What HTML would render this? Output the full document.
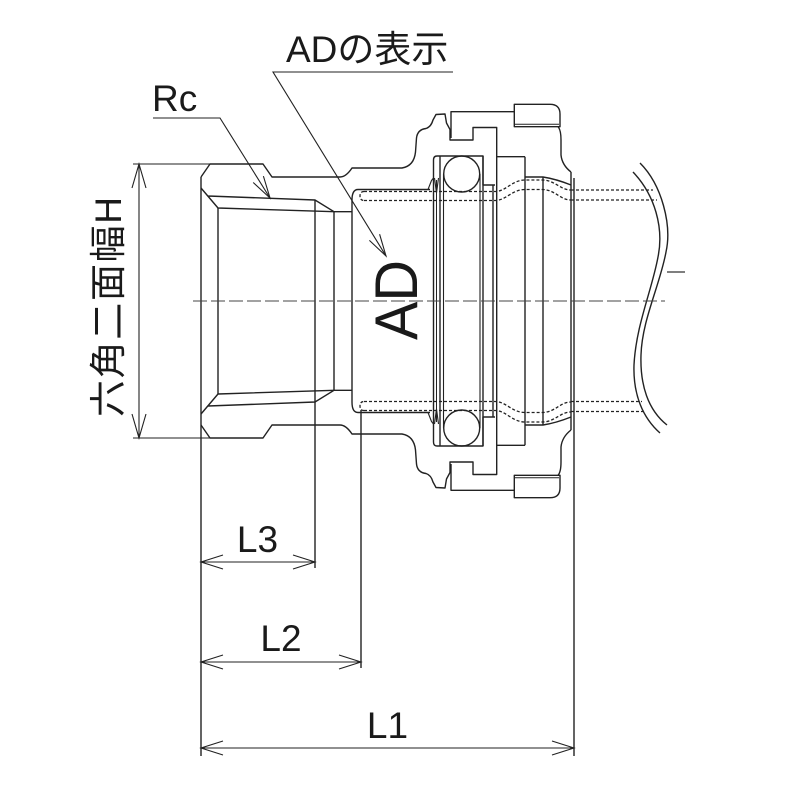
<!DOCTYPE html>
<html>
<head>
<meta charset="utf-8">
<style>
html,body{margin:0;padding:0;background:#fff;}
svg{display:block;}
text{fill:#1a1a1a;}
</style>
</head>
<body>
<svg width="800" height="800" viewBox="0 0 800 800" xmlns="http://www.w3.org/2000/svg">
<defs>
<g id="half" fill="none" stroke="#222" stroke-width="1.4" stroke-linejoin="round">
  <!-- hex + body outer profile -->
  <path d="M201,177 L210,164 L263,164 L272,177 L340,177 Q346,177 352,168 L402,168 Q414,166 415.5,152 L416.5,138 Q417.5,129.5 426,128.5 Q431,127 433,120 L436,114.5 L445,114 L446.5,123 L450,129.5 L450,140 L473,140 L473,127.5 L496.7,127.5 L496.7,156.7 L525,156.7"/>
  <!-- nut -->
  <path d="M451,138 L451,111.7 L514.3,111.7"/>
  <path d="M514.3,126.7 L514.3,104.3 L550,104.3 Q560,104.3 560,114 L560,126.7 Z"/>
  <path d="M514.3,124.3 L559,124.3" stroke-width="1"/>
  <!-- body right end -->
  <path d="M558,126.7 Q561,130 561,140 L561,155 Q562,165 571,172"/>
  <!-- thread -->
  <path d="M201,188 L218,208 L334,211.7 L315,200 L208,196"/>
  <path d="M334,211.7 L352,211.7"/>
  <!-- socket bore -->
  <path d="M352,200 Q352,189.5 358,189.5 L430,189.5"/>
  <!-- o-ring housing -->
  <path d="M433.5,160 Q433.5,156 437,156 L483,156 L483,185 L495,185"/>
  <circle cx="461.7" cy="174" r="18"/>
  <!-- grab ring teeth -->
  <path d="M428,189.5 L431.5,180.5 L433.5,178" stroke-width="1.1"/>
  <path d="M434.5,178 L436.5,193 L438.5,178" stroke-width="1.1"/>
  <!-- socket inner -->
  <path d="M525,177 L543,177 Q556,179 571,185"/>
  <!-- pipe hidden lines -->
  <path d="M364,191.5 Q360,191.5 360,196 Q360,200.5 364,200.5" stroke-dasharray="3 2" stroke-width="1.3"/>
  <path d="M364,191.5 L495,191.5 C506,191.5 512,180 525,180 L542,180 C555,180 560,190 571,190" stroke-dasharray="3 2" stroke-width="1.3"/>
  <path d="M364,200.5 L495,200.5 C506,200.5 512,189.5 525,189.5 L542,189.5 C555,189.5 560,200 571,200" stroke-dasharray="3 2" stroke-width="1.3"/>
</g>
</defs>

<use href="#half"/>
<use href="#half" transform="matrix(1,0,0,-1,0,602)"/>

<g fill="none" stroke="#222" stroke-width="1.4">
  <!-- full-length verticals -->
  <path d="M201,177 L201,756"/>
  <path d="M218,208 L218,394"/>
  <path d="M315,200 L315,568"/>
  <path d="M334,211.7 L334,390.3"/>
  <path d="M352,200 L352,402"/>
  <path d="M361,410 L361,668"/>
  <path d="M433.5,160 L433.5,442"/>
  <path d="M436.5,180 L436.5,422" stroke-width="1"/>
  <path d="M440,156 L440,446"/>
  <path d="M443.5,174 L443.5,428" stroke-width="1.1"/>
  <path d="M480,174 L480,428" stroke-width="1.1"/>
  <path d="M483,156 L483,446"/>
  <path d="M493,185 L493,417"/>
  <path d="M496.7,156.7 L496.7,445.3"/>
  <path d="M525,156.7 L525,445.3"/>
  <path d="M543,177 L543,425"/>
  <path d="M571,172 L571,430"/>
  <path d="M574,178 L574,756"/>
</g>

<!-- pipe hidden lines to the right -->
<g fill="none" stroke="#222" stroke-width="1.3" stroke-dasharray="3 2">
  <path d="M571,190 L653,190"/>
  <path d="M571,200 L657,200"/>
  <path d="M571,401.5 L642,401.5"/>
  <path d="M571,411.5 L645,411.5"/>
</g>

<!-- break lines -->
<g fill="none" stroke="#222" stroke-width="1.4">
  <path d="M640,163 C662,185 672,225 666,252 C660,285 642,320 641,355 C640,385 648,410 667,425"/>
  <path d="M633,172 C655,195 664,228 658,257 C652,290 636,325 634,365 C633,395 643,418 660,433"/>
  <path d="M667,272 L685,272" stroke="#555"/>
</g>

<!-- centerline -->
<path d="M193,301 L665,301" stroke="#444" stroke-width="1.1" stroke-dasharray="14 4" fill="none"/>

<!-- dimensions -->
<g fill="none" stroke="#222" stroke-width="1.1">
  <!-- H -->
  <path d="M133,164 L210,164"/>
  <path d="M133,438 L210,438"/>
  <path d="M139,164 L139,438"/>
  <path d="M132,188 L139,164 L146,188"/>
  <path d="M132,414 L139,438 L146,414"/>
  <!-- L3 -->
  <path d="M201,562 L315,562"/>
  <path d="M223,555 L201,562 L223,569"/>
  <path d="M293,555 L315,562 L293,569"/>
  <!-- L2 -->
  <path d="M201,662 L361,662"/>
  <path d="M223,655 L201,662 L223,669"/>
  <path d="M339,655 L361,662 L339,669"/>
  <!-- L1 -->
  <path d="M201,748 L574,748"/>
  <path d="M223,741 L201,748 L223,755"/>
  <path d="M552,741 L574,748 L552,755"/>
  <!-- Rc leader -->
  <path d="M153,118 L220,118 L270,198"/>
  <path d="M253.2,182.5 L270,198 L263.4,176.1"/>
  <!-- AD leader -->
  <path d="M453,72 L273,72 L386,256"/>
  <path d="M369.4,240.4 L386,256 L379.6,234.2"/>
</g>

<!-- labels -->
<g font-family="'Liberation Sans', 'Noto Sans CJK JP', sans-serif">
  <text x="152" y="111" font-size="37">Rc</text>
  <text x="286" y="62" font-size="37">ADの表示</text>
  <text x="257.5" y="552" font-size="37" text-anchor="middle">L3</text>
  <text x="281" y="651" font-size="37" text-anchor="middle">L2</text>
  <text x="387.5" y="738" font-size="37" text-anchor="middle">L1</text>
  <text transform="translate(417,340) rotate(-90)" font-size="60" textLength="80" lengthAdjust="spacingAndGlyphs">AD</text>
  <text transform="translate(121,417) rotate(-90)" font-size="37" textLength="220" lengthAdjust="spacing">六角二面幅H</text>
</g>
</svg>
</body>
</html>
